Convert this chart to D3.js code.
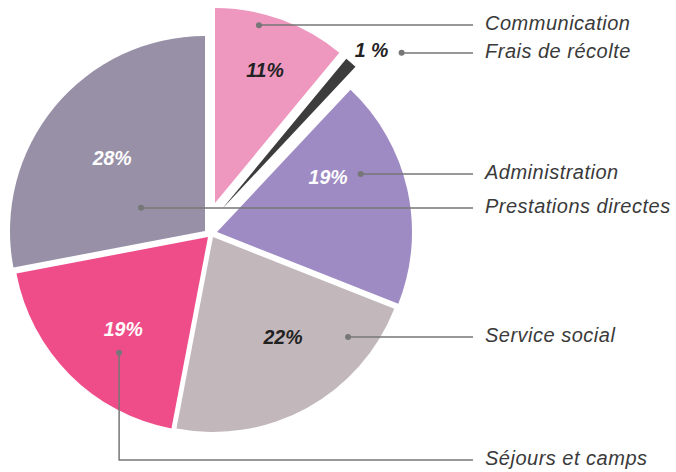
<!DOCTYPE html>
<html>
<head>
<meta charset="utf-8">
<script src="https://cdn.jsdelivr.net/npm/d3@7"></script>
<style>
  body { margin: 0; background: #fff; }
  svg { display: block; }
  .pct { font-family: "Liberation Sans", Arial, sans-serif; font-weight: bold; font-style: italic; font-size: 19.5px; }
  .lbl { font-family: "Liberation Sans", Arial, sans-serif; font-style: italic; font-size: 20px; letter-spacing: 0.5px; fill: #3a3a3a; }
</style>
</head>
<body>
<div id="chart"></div>
<script>
// data
const categories = ["Communication", "Frais de récolte", "Administration", "Service social", "Séjours et camps", "Prestations directes"];
const values = [11, 1, 19, 22, 19, 28];
const pctLabels = ["11%", "1 %", "19%", "22%", "19%", "28%"];
const colors = ["#ee98c0", "#3c3c3c", "#9e8bc3", "#c2b8bb", "#ef4d8a", "#9890a7"];
const pctColors = ["#222", "#222", "#fff", "#222", "#fff", "#fff"];

// layout
const width = 676, height = 472;
const center = [210, 232], radius = 195;
// each slice pulled out a bit, not all the same way
const shift = [[5, -29], [12, -23], [7, 0], [3, 5], [-2, 5], [-5, -1]];
// percent label spot: [angle deg, distance] from slice tip
const pctPolar = [[20.6, 142], [43.3, 218], [63.6, 124], [145, 122], [222.7, 125], [308.1, 118]];
// callout dot: [angle deg, distance] from slice tip
const dotPolar = [[13.9, 183], [49, 238], [68, 155], [126.5, 168], [217.5, 146], [290, 68]];
const rowY = [25, 53, 174, 337, 460, 208];
const lineEnd = 473, textX = 485;

const svg = d3.select("#chart").append("svg")
  .attr("width", width)
  .attr("height", height);

const pie = d3.pie().sort(null).value(d => d);
const arcs = pie(values);
const arc = d3.arc().innerRadius(0).outerRadius(radius);

function polar(i, p) {
  let a = p[0] * Math.PI / 180;
  return [center[0] + shift[i][0] + p[1] * Math.sin(a),
          center[1] + shift[i][1] - p[1] * Math.cos(a)];
}

// slices
svg.append("g").selectAll("path")
  .data(arcs)
  .enter().append("path")
  .attr("transform", (d, i) => "translate(" + (center[0] + shift[i][0]) + "," + (center[1] + shift[i][1]) + ")")
  .attr("d", arc)
  .attr("fill", (d, i) => colors[i]);

// percent labels
svg.append("g").selectAll("text")
  .data(arcs)
  .enter().append("text")
  .attr("class", "pct")
  .attr("x", (d, i) => polar(i, pctPolar[i])[0])
  .attr("y", (d, i) => polar(i, pctPolar[i])[1])
  .attr("dy", "0.36em")
  .attr("text-anchor", "middle")
  .attr("fill", (d, i) => pctColors[i])
  .text((d, i) => pctLabels[i]);

// callouts
let callouts = svg.append("g");
categories.forEach((c, i) => {
  let p = polar(i, dotPolar[i]);
  callouts.append("path")
    .attr("d", "M" + p[0] + "," + p[1] + "L" + p[0] + "," + rowY[i] + "L" + lineEnd + "," + rowY[i])
    .attr("fill", "none")
    .attr("stroke", "#777")
    .attr("stroke-width", 1.5);
  callouts.append("circle")
    .attr("cx", p[0])
    .attr("cy", p[1])
    .attr("r", 3)
    .attr("fill", "#777");
  callouts.append("text")
    .attr("class", "lbl")
    .attr("x", textX)
    .attr("y", rowY[i])
    .attr("dy", "0.26em")
    .text(c);
});
</script>
</body>
</html>
